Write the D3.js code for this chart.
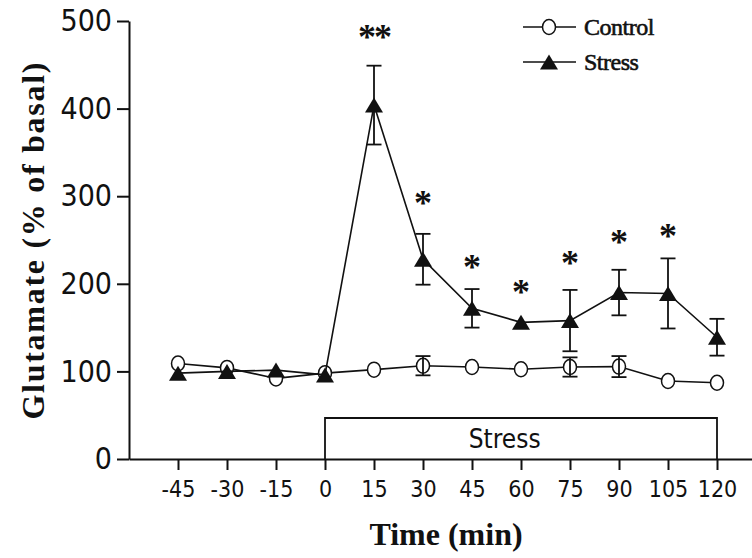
<!DOCTYPE html>
<html><head><meta charset="utf-8">
<script src="https://cdn.jsdelivr.net/npm/d3@7/dist/d3.min.js"></script>
<style>
html,body{margin:0;padding:0;background:#fff;}
svg{display:block;}
</style></head>
<body><svg id="chart" width="752" height="558"></svg>
<script>
// ---- data ----
const times = [-45, -30, -15, 0, 15, 30, 45, 60, 75, 90, 105, 120];
const xTickLabels = ["-45","-30","-15","0","15","30","45","60","75","90","105","120"];
const yTicks = [0, 100, 200, 300, 400, 500];
const controlMean = [109, 104, 92, 98, 102, 106.5, 105, 102.5, 105, 105.5, 89, 87];
const controlErr  = [0, 0, 0, 0, 0, 11, 0, 0, 11, 12, 0, 0];
const stressMean  = [98, 100, 101.5, 96, 404, 228, 172, 156, 158, 190, 189, 139];
const stressErr   = [0, 0, 0, 0, 45, 29, 22, 0, 35, 26, 40, 21];
const sigTimes  = [15, 30, 45, 60, 75, 90, 105];
const sigLabels = ["**", "*", "*", "*", "*", "*", "*"];
const sigLevel  = [486, 297, 224, 196, 228, 252, 259];
const stressPeriod = [0, 120];
const seriesNames = ["Control", "Stress"];

// ---- layout ----
const svg = d3.select("#chart");
const ink = "#111";
const x = d3.scaleLinear().domain([-60, 135]).range([129, 766]);
const y = d3.scaleLinear().domain([0, 500]).range([459, 21]);
const sansC = "'DejaVu Sans Condensed','DejaVu Sans',sans-serif";
const serif = "'Liberation Serif','Times New Roman',serif";

// axes
const yAxis = d3.axisLeft(y).tickValues(yTicks).tickSize(12).tickSizeOuter(0).tickPadding(5);
const gy = svg.append("g").attr("transform", "translate(129,0)").call(yAxis);
gy.selectAll("text").attr("font-family", sansC).attr("font-size", 30).attr("fill", ink);

const xAxis = d3.axisBottom(x).tickValues(times).tickFormat((d, i) => xTickLabels[i])
  .tickSize(11).tickSizeOuter(0).tickPadding(11);
const gx = svg.append("g").attr("transform", "translate(0,459)").call(xAxis);
gx.selectAll("text").attr("font-family", sansC).attr("font-size", 23).attr("fill", ink);

[gx, gy].forEach(g => {
  g.select(".domain").attr("stroke", ink).attr("stroke-width", 2);
  g.selectAll(".tick line").attr("stroke", ink).attr("stroke-width", 2);
});

// stress period box
svg.append("path")
  .attr("d", `M${x(stressPeriod[0])},${y(0)}V418H${x(stressPeriod[1])}V${y(0)}`)
  .attr("fill", "none").attr("stroke", ink).attr("stroke-width", 1.8);
svg.append("text").attr("x", x(55)).attr("y", 448).attr("text-anchor", "middle")
  .attr("font-family", sansC).attr("font-size", 26).attr("fill", ink).text("Stress");

// axis titles
svg.append("text").attr("transform", "translate(44,241) rotate(-90)")
  .attr("text-anchor", "middle").attr("font-family", serif).attr("font-weight", "bold")
  .attr("font-size", 32).attr("fill", ink)
  .attr("textLength", 357).attr("lengthAdjust", "spacing")
  .text("Glutamate (% of basal)");
svg.append("text").attr("x", 446).attr("y", 545).attr("text-anchor", "middle")
  .attr("font-family", serif).attr("font-weight", "bold").attr("font-size", 32)
  .attr("fill", ink).text("Time (min)");

// helpers
const triPath = "M0,-7.5L9,7.5L-9,7.5Z";
const line = d3.line().x(d => x(d.t)).y(d => y(d.v));
function errBars(g, data) {
  const eb = g.selectAll("g.eb").data(data.filter(d => d.e > 0)).join("g").attr("class", "eb");
  eb.append("line").attr("x1", d => x(d.t)).attr("x2", d => x(d.t))
    .attr("y1", d => y(d.v - d.e)).attr("y2", d => y(d.v + d.e));
  eb.append("line").attr("x1", d => x(d.t) - 7.5).attr("x2", d => x(d.t) + 7.5)
    .attr("y1", d => y(d.v + d.e)).attr("y2", d => y(d.v + d.e));
  eb.append("line").attr("x1", d => x(d.t) - 7.5).attr("x2", d => x(d.t) + 7.5)
    .attr("y1", d => y(d.v - d.e)).attr("y2", d => y(d.v - d.e));
  eb.selectAll("line").attr("stroke", ink).attr("stroke-width", 1.8);
}

// control series
const cData = times.map((t, i) => ({t, v: controlMean[i], e: controlErr[i]}));
const gc = svg.append("g");
gc.append("path").attr("d", line(cData)).attr("fill", "none").attr("stroke", ink).attr("stroke-width", 1.6);
gc.selectAll("ellipse").data(cData).join("ellipse")
  .attr("cx", d => x(d.t)).attr("cy", d => y(d.v)).attr("rx", 6.5).attr("ry", 7.5)
  .attr("fill", "#fff").attr("stroke", ink).attr("stroke-width", 1.5);
errBars(gc, cData);

// stress series
const sData = times.map((t, i) => ({t, v: stressMean[i], e: stressErr[i]}));
const gs = svg.append("g");
errBars(gs, sData);
gs.append("path").attr("d", line(sData)).attr("fill", "none").attr("stroke", ink).attr("stroke-width", 1.6);
gs.selectAll("path.tri").data(sData).join("path").attr("class", "tri")
  .attr("d", triPath).attr("transform", d => `translate(${x(d.t)},${y(d.v)})`)
  .attr("fill", ink);

// significance stars
svg.selectAll("text.sig").data(sigTimes).join("text").attr("class", "sig")
  .attr("x", d => x(d)).attr("y", (d, i) => y(sigLevel[i]))
  .attr("dy", "0.45em").attr("text-anchor", "middle")
  .attr("font-family", serif).attr("font-weight", "bold").attr("font-size", 36)
  .attr("letter-spacing", (d, i) => sigLabels[i].length > 1 ? -2 : 0)
  .attr("fill", ink).text((d, i) => sigLabels[i]);

// legend
const lg = svg.append("g");
[27, 62].forEach((ly, i) => {
  lg.append("line").attr("x1", 523).attr("x2", 576).attr("y1", ly).attr("y2", ly)
    .attr("stroke", ink).attr("stroke-width", 1.6);
  if (i === 0) {
    lg.append("ellipse").attr("cx", 549).attr("cy", ly).attr("rx", 6.5).attr("ry", 7.5)
      .attr("fill", "#fff").attr("stroke", ink).attr("stroke-width", 1.5);
  } else {
    lg.append("path").attr("d", triPath).attr("transform", `translate(549,${ly})`).attr("fill", ink);
  }
  lg.append("text").attr("x", 584).attr("y", ly + 8).attr("font-family", serif)
    .attr("font-size", 24).attr("fill", ink).attr("stroke", ink).attr("stroke-width", 0.6)
    .attr("letter-spacing", -0.5).text(seriesNames[i]);
});
</script></body></html>
